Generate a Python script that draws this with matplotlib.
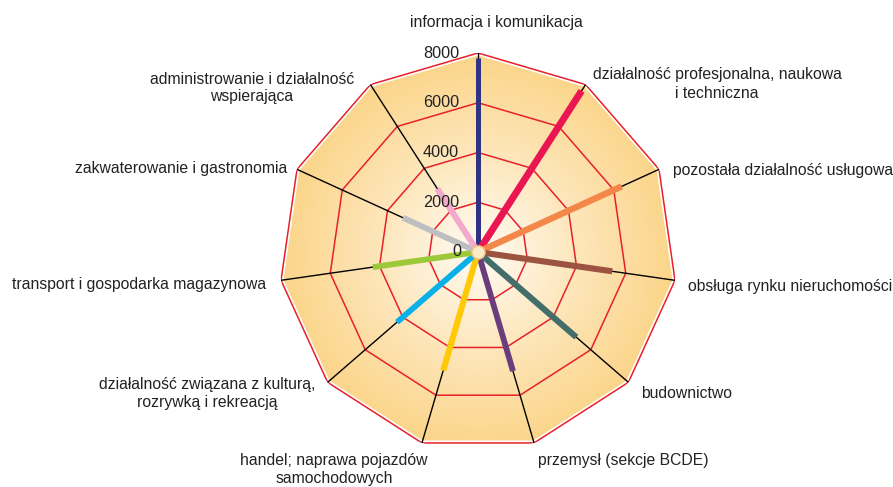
import numpy as np
import matplotlib
matplotlib.use("Agg")
import matplotlib.pyplot as plt
from matplotlib.colors import LinearSegmentedColormap
from matplotlib.patches import Polygon

plt.rcParams['font.family'] = ['Liberation Sans', 'DejaVu Sans']

# sekcje, clockwise from the top
categories = [
    "informacja i komunikacja",
    "działalność profesjonalna, naukowa\ni techniczna",
    "pozostała działalność usługowa",
    "obsługa rynku nieruchomości",
    "budownictwo",
    "przemysł (sekcje BCDE)",
    "handel; naprawa pojazdów\nsamochodowych",
    "działalność związana z kulturą,\nrozrywką i rekreacją",
    "transport i gospodarka magazynowa",
    "zakwaterowanie i gastronomia",
    "administrowanie i działalność\nwspierająca",
]
values = [7800, 7700, 6350, 5450, 5230, 4990, 4970, 4310, 4270, 3320, 3020]
line_colors = ["#2e3383", "#ea1652", "#f3874a", "#9c5440", "#436e6c", "#6a3d7c",
               "#ffc907", "#0ab1e8", "#9bc93a", "#bdbec0", "#f3a9cb"]
line_widths = [3.6, 5.0, 4.6, 4.4, 4.4, 4.2, 4.4, 4.2, 4.2, 4.2, 4.4]
ticks = [0, 2000, 4000, 6000, 8000]
rmax = 8000

W, H = 893, 487
fig = plt.figure(figsize=(W / 100, H / 100), dpi=100)

# polar axes placed so the centre sits at (478, 252) px, radius 199 px
cx, cy, R = 478, 252, 199
ax = fig.add_axes([(cx - R) / W, (H - cy - R) / H, 2 * R / W, 2 * R / H],
                  projection='polar')
ax.set_theta_zero_location('N')
ax.set_theta_direction(-1)
ax.set_ylim(0, rmax)
ax.grid(False)
ax.spines['polar'].set_visible(False)
ax.set_xticks([])
ax.set_yticks([])
ax.patch.set_alpha(0)

n = len(categories)
angles = np.arange(n) * 2 * np.pi / n
closed = np.append(angles, angles[0])

# radial gradient fill, clipped to the outer polygon
cmap = LinearSegmentedColormap.from_list("bg", ["#fffcf5", "#fde6bb", "#fbd488"])
tt, rr = np.meshgrid(np.linspace(0, 2 * np.pi, 300), np.linspace(0, rmax, 60))
mesh = ax.pcolormesh(tt, rr, rr, cmap=cmap, shading='gouraud', zorder=0)
clip = Polygon(np.column_stack([angles, [rmax] * n]), closed=True,
               transform=ax.transData, facecolor='none', edgecolor='none')
ax.add_patch(clip)
mesh.set_clip_path(clip)

# white halo + red polygon rings
ax.plot(closed, [rmax] * (n + 1), color='white', lw=3.5, zorder=1)
for t in ticks[1:]:
    ax.plot(closed, [t] * (n + 1), color='#e8202a', lw=1.1, zorder=2)

# spokes
for a in angles:
    ax.plot([a, a], [0, rmax], color='black', lw=1.0, zorder=3)

# value lines
for a, v, c, w in zip(angles, values, line_colors, line_widths):
    ax.plot([a, a], [0, v], color=c, lw=w, solid_capstyle='butt', zorder=4)

ax.scatter([0], [0], s=90, facecolor='#fdebc8', edgecolor='#f0c27c',
           linewidth=1.0, zorder=6)

# radial tick labels, left of the top spoke
for t in ticks:
    ax.annotate(str(t), xy=(0, t), xytext=(-19 if t else -17, 0),
                textcoords='offset pixels', ha='right', va='center',
                fontsize=11.7, color='#222222', zorder=5)

# category labels (pixel positions of the reference)
label_pos = [
    (496, 22, 'center'),
    (717, 84, 'center'),
    (673, 171, 'left'),
    (688, 286, 'left'),
    (641, 393, 'left'),
    (538, 461, 'left'),
    (334, 470, 'center'),
    (207, 393, 'center'),
    (266, 285, 'right'),
    (287, 169, 'right'),
    (252, 88, 'center'),
]
for lab, (x, y, ha) in zip(categories, label_pos):
    fig.text(x / W, 1 - y / H, lab, ha=ha, va='center', multialignment='center',
             fontsize=11.3, color='#222222', linespacing=1.25)

fig.savefig("out.png", dpi=100)
